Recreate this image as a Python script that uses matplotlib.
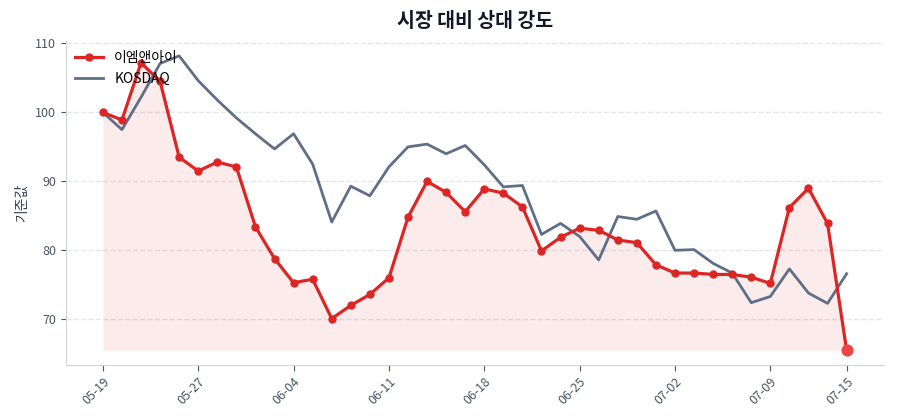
import matplotlib
matplotlib.use("Agg")
import matplotlib.pyplot as plt
import numpy as np

plt.rcParams['font.family'] = ['Noto Sans CJK KR', 'DejaVu Sans']

# 거래일 라벨 (틱 위치만)
tick_pos = [0, 5, 10, 15, 20, 25, 30, 35, 39]
tick_labels = ['05-19', '05-27', '06-04', '06-11', '06-18', '06-25', '07-02', '07-09', '07-15']

stock = [100.0, 98.9, 107.2, 104.5, 93.5, 91.5, 92.8, 92.1, 83.4, 78.8,
         75.3, 75.8, 70.1, 72.0, 73.6, 76.0, 84.8, 90.0, 88.4, 85.6,
         88.9, 88.3, 86.3, 79.9, 81.9, 83.2, 82.9, 81.5, 81.1, 77.9,
         76.7, 76.7, 76.5, 76.5, 76.1, 75.2, 86.2, 89.0, 83.9, 65.5]
kosdaq = [100.0, 97.5, 102.2, 107.1, 108.2, 104.6, 101.8, 99.2, 96.9, 94.7,
          96.9, 92.5, 84.1, 89.3, 87.9, 92.1, 95.0, 95.4, 94.0, 95.2,
          92.4, 89.2, 89.4, 82.3, 83.9, 82.0, 78.6, 84.9, 84.5, 85.7,
          80.0, 80.1, 78.1, 76.7, 72.4, 73.3, 77.3, 73.8, 72.3, 76.6]

red = '#dc2626'
slate = '#5f6f87'
x = np.arange(len(stock))

fig, ax = plt.subplots(figsize=(9, 4.2), dpi=100)
fig.subplots_adjust(left=0.073, right=0.982, top=0.902, bottom=0.131)

ax.fill_between(x, stock, min(stock), color=red, alpha=0.09, linewidth=0)
ax.plot(x, stock, color=red, linewidth=2.3, marker='o', markersize=5, label='이엠앤아이', zorder=3)
ax.plot(x, kosdaq, color=slate, linewidth=2, label='KOSDAQ', zorder=2)
ax.scatter([x[-1]], [stock[-1]], s=60, color='#ef4444', zorder=4)

ax.set_title('시장 대비 상대 강도', fontsize=14, fontweight='bold', color='#111827', pad=10)
ax.set_ylabel('기준값', fontsize=10, color='#374151')
ax.set_xticks(tick_pos)
ax.set_xticklabels(tick_labels, rotation=45, ha='right', rotation_mode='anchor')
ax.set_yticks([70, 80, 90, 100, 110])
ax.tick_params(axis='both', labelsize=9, colors='#4b5563')
ax.tick_params(axis='x', length=4)

ax.grid(axis='y', linestyle='--', color='#e5e7eb', linewidth=1)
ax.set_axisbelow(True)
for s in ['top', 'right']:
    ax.spines[s].set_visible(False)
for s in ['left', 'bottom']:
    ax.spines[s].set_color('#d1d5db')

ax.legend(loc='upper left', frameon=False, fontsize=10, borderaxespad=0.3)

fig.savefig('out.png', dpi=100)
